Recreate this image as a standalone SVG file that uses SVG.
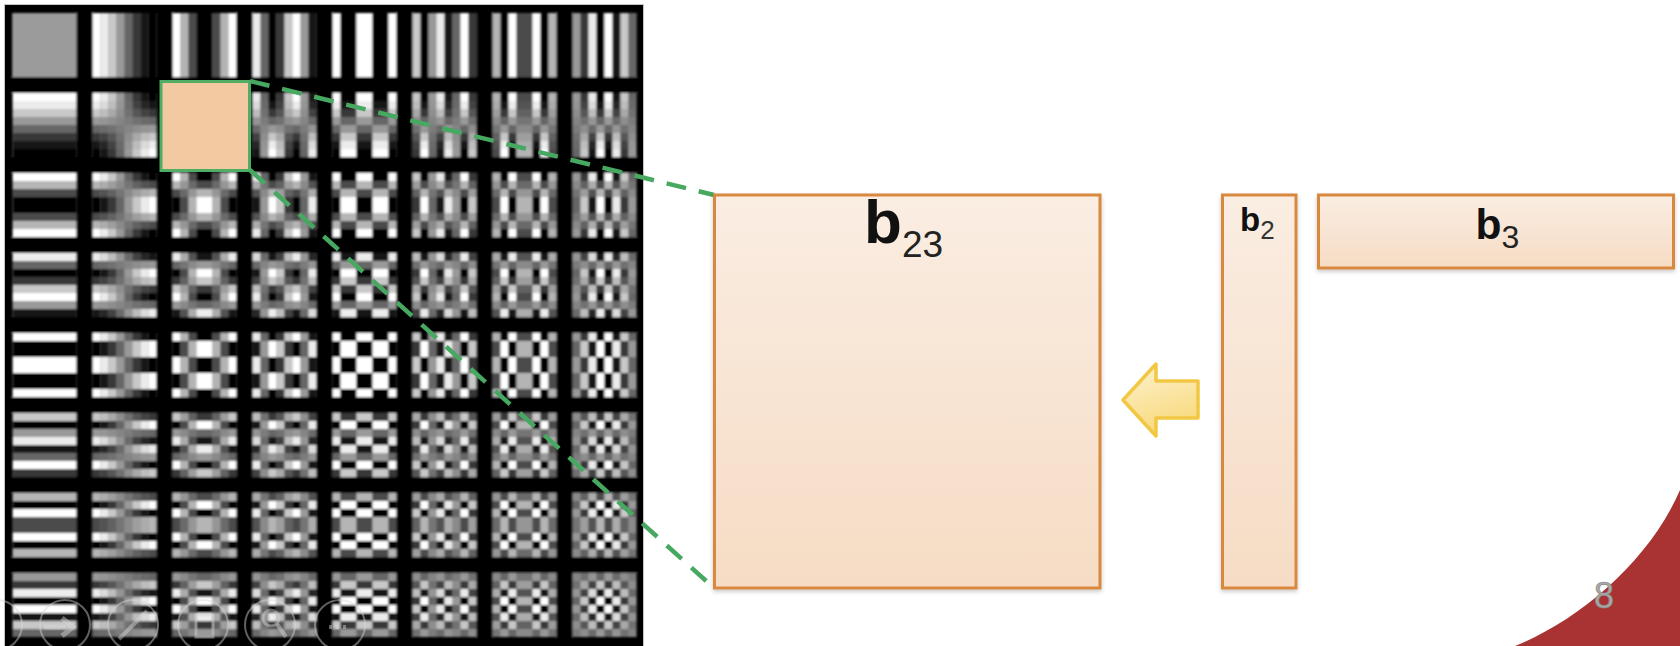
<svg xmlns="http://www.w3.org/2000/svg" width="1680" height="646" viewBox="0 0 1680 646">
<style>
.lbl{font-family:"Liberation Sans",Arial,sans-serif;fill:#111}
.box{stroke:#d9883f;stroke-width:3;fill:url(#boxg)}
.dash{stroke:#47a862;stroke-width:4.5;stroke-dasharray:20 13;fill:none}
.ic{fill:none;stroke:#d8d8d8;stroke-opacity:.45;stroke-width:2}
.band{fill-opacity:1}
</style>
<defs>
<linearGradient id="boxg" x1="0" y1="0" x2="0" y2="1">
<stop offset="0" stop-color="#faede2"/>
<stop offset="1" stop-color="#f6dcc4"/>
</linearGradient>
<linearGradient id="arrg" x1="0" y1="0" x2="0.3" y2="1">
<stop offset="0" stop-color="#fdf3d2"/>
<stop offset="1" stop-color="#f8d97c"/>
</linearGradient>
<filter id="shadow" x="-10%" y="-10%" width="120%" height="120%">
<feDropShadow dx="0" dy="2" stdDeviation="2" flood-color="#000" flood-opacity="0.22"/>
</filter>
<filter id="soft" x="-2%" y="-2%" width="104%" height="104%">
<feGaussianBlur stdDeviation="0.9"/>
</filter>
<pattern id="PX" patternUnits="userSpaceOnUse" x="0" y="0" width="1680" height="646">
<rect x="12.5" width="64" height="646" fill="#fff"/>
<rect x="92.5" width="8" height="646" fill="#fff"/>
<rect x="100.5" width="8" height="646" fill="#ebebeb"/>
<rect x="108.5" width="8" height="646" fill="#c8c8c8"/>
<rect x="116.5" width="8" height="646" fill="#999"/>
<rect x="124.5" width="8" height="646" fill="#666"/>
<rect x="132.5" width="8" height="646" fill="#373737"/>
<rect x="140.5" width="8" height="646" fill="#141414"/>
<rect x="148.5" width="8" height="646" fill="#000"/>
<rect x="172.5" width="8" height="646" fill="#fff"/>
<rect x="180.5" width="8" height="646" fill="#b4b4b4"/>
<rect x="188.5" width="8" height="646" fill="#4b4b4b"/>
<rect x="196.5" width="16" height="646" fill="#000"/>
<rect x="212.5" width="8" height="646" fill="#4b4b4b"/>
<rect x="220.5" width="8" height="646" fill="#b4b4b4"/>
<rect x="228.5" width="8" height="646" fill="#fff"/>
<rect x="252.5" width="8" height="646" fill="#ebebeb"/>
<rect x="260.5" width="8" height="646" fill="#666"/>
<rect x="268.5" width="8" height="646" fill="#000"/>
<rect x="276.5" width="8" height="646" fill="#373737"/>
<rect x="284.5" width="8" height="646" fill="#c8c8c8"/>
<rect x="292.5" width="8" height="646" fill="#fff"/>
<rect x="300.5" width="8" height="646" fill="#999"/>
<rect x="308.5" width="8" height="646" fill="#141414"/>
<rect x="332.5" width="8" height="646" fill="#fff"/>
<rect x="340.5" width="16" height="646" fill="#000"/>
<rect x="356.5" width="16" height="646" fill="#fff"/>
<rect x="372.5" width="16" height="646" fill="#000"/>
<rect x="388.5" width="8" height="646" fill="#fff"/>
<rect x="412.5" width="8" height="646" fill="#c8c8c8"/>
<rect x="420.5" width="8" height="646" fill="#000"/>
<rect x="428.5" width="8" height="646" fill="#999"/>
<rect x="436.5" width="8" height="646" fill="#ebebeb"/>
<rect x="444.5" width="8" height="646" fill="#141414"/>
<rect x="452.5" width="8" height="646" fill="#666"/>
<rect x="460.5" width="8" height="646" fill="#fff"/>
<rect x="468.5" width="8" height="646" fill="#373737"/>
<rect x="492.5" width="8" height="646" fill="#b4b4b4"/>
<rect x="500.5" width="8" height="646" fill="#000"/>
<rect x="508.5" width="8" height="646" fill="#fff"/>
<rect x="516.5" width="16" height="646" fill="#4b4b4b"/>
<rect x="532.5" width="8" height="646" fill="#fff"/>
<rect x="540.5" width="8" height="646" fill="#000"/>
<rect x="548.5" width="8" height="646" fill="#b4b4b4"/>
<rect x="572.5" width="8" height="646" fill="#999"/>
<rect x="580.5" width="8" height="646" fill="#373737"/>
<rect x="588.5" width="8" height="646" fill="#ebebeb"/>
<rect x="596.5" width="8" height="646" fill="#000"/>
<rect x="604.5" width="8" height="646" fill="#fff"/>
<rect x="612.5" width="8" height="646" fill="#141414"/>
<rect x="620.5" width="8" height="646" fill="#c8c8c8"/>
<rect x="628.5" width="8" height="646" fill="#666"/>
</pattern>
<pattern id="PXi" patternUnits="userSpaceOnUse" x="0" y="0" width="1680" height="646">
<rect x="12.5" width="64" height="646" fill="#000"/>
<rect x="92.5" width="8" height="646" fill="#000"/>
<rect x="100.5" width="8" height="646" fill="#141414"/>
<rect x="108.5" width="8" height="646" fill="#373737"/>
<rect x="116.5" width="8" height="646" fill="#666"/>
<rect x="124.5" width="8" height="646" fill="#999"/>
<rect x="132.5" width="8" height="646" fill="#c8c8c8"/>
<rect x="140.5" width="8" height="646" fill="#ebebeb"/>
<rect x="148.5" width="8" height="646" fill="#fff"/>
<rect x="172.5" width="8" height="646" fill="#000"/>
<rect x="180.5" width="8" height="646" fill="#4b4b4b"/>
<rect x="188.5" width="8" height="646" fill="#b4b4b4"/>
<rect x="196.5" width="16" height="646" fill="#fff"/>
<rect x="212.5" width="8" height="646" fill="#b4b4b4"/>
<rect x="220.5" width="8" height="646" fill="#4b4b4b"/>
<rect x="228.5" width="8" height="646" fill="#000"/>
<rect x="252.5" width="8" height="646" fill="#141414"/>
<rect x="260.5" width="8" height="646" fill="#999"/>
<rect x="268.5" width="8" height="646" fill="#fff"/>
<rect x="276.5" width="8" height="646" fill="#c8c8c8"/>
<rect x="284.5" width="8" height="646" fill="#373737"/>
<rect x="292.5" width="8" height="646" fill="#000"/>
<rect x="300.5" width="8" height="646" fill="#666"/>
<rect x="308.5" width="8" height="646" fill="#ebebeb"/>
<rect x="332.5" width="8" height="646" fill="#000"/>
<rect x="340.5" width="16" height="646" fill="#fff"/>
<rect x="356.5" width="16" height="646" fill="#000"/>
<rect x="372.5" width="16" height="646" fill="#fff"/>
<rect x="388.5" width="8" height="646" fill="#000"/>
<rect x="412.5" width="8" height="646" fill="#373737"/>
<rect x="420.5" width="8" height="646" fill="#fff"/>
<rect x="428.5" width="8" height="646" fill="#666"/>
<rect x="436.5" width="8" height="646" fill="#141414"/>
<rect x="444.5" width="8" height="646" fill="#ebebeb"/>
<rect x="452.5" width="8" height="646" fill="#999"/>
<rect x="460.5" width="8" height="646" fill="#000"/>
<rect x="468.5" width="8" height="646" fill="#c8c8c8"/>
<rect x="492.5" width="8" height="646" fill="#4b4b4b"/>
<rect x="500.5" width="8" height="646" fill="#fff"/>
<rect x="508.5" width="8" height="646" fill="#000"/>
<rect x="516.5" width="16" height="646" fill="#b4b4b4"/>
<rect x="532.5" width="8" height="646" fill="#000"/>
<rect x="540.5" width="8" height="646" fill="#fff"/>
<rect x="548.5" width="8" height="646" fill="#4b4b4b"/>
<rect x="572.5" width="8" height="646" fill="#666"/>
<rect x="580.5" width="8" height="646" fill="#c8c8c8"/>
<rect x="588.5" width="8" height="646" fill="#141414"/>
<rect x="596.5" width="8" height="646" fill="#fff"/>
<rect x="604.5" width="8" height="646" fill="#000"/>
<rect x="612.5" width="8" height="646" fill="#ebebeb"/>
<rect x="620.5" width="8" height="646" fill="#373737"/>
<rect x="628.5" width="8" height="646" fill="#999"/>
</pattern>
</defs>

<rect width="1680" height="646" fill="#fff"/>

<!-- corner decoration -->
<g id="corner">
<path d="M1515 646 C1580 620 1650 560 1680 490 L1680 646 Z" fill="#a93232"/>
</g>

<!-- DCT basis panel -->
<g id="dct-panel">
<rect x="4.5" y="4.5" width="639" height="645" fill="#000" stroke="#c4c4c4" stroke-width="1"/>
<g filter="url(#soft)">
<rect x="12.5" y="13" width="624" height="624" fill="#808080"/>
<!-- row 0 -->
<rect x="12.5" y="13" width="624" height="64" fill="url(#PX)"/>
<!-- row 1 -->
<rect x="12.5" y="93" width="624" height="8" fill="url(#PX)"/>
<rect x="12.5" y="101" width="624" height="8" fill="url(#PX)" fill-opacity=".847"/>
<rect x="12.5" y="109" width="624" height="8" fill="url(#PX)" fill-opacity=".567"/>
<rect x="12.5" y="117" width="624" height="8" fill="url(#PX)" fill-opacity=".199"/>
<rect x="12.5" y="125" width="624" height="8" fill="url(#PXi)" fill-opacity=".199"/>
<rect x="12.5" y="133" width="624" height="8" fill="url(#PXi)" fill-opacity=".567"/>
<rect x="12.5" y="141" width="624" height="8" fill="url(#PXi)" fill-opacity=".847"/>
<rect x="12.5" y="149" width="624" height="8" fill="url(#PXi)"/>
<!-- row 2 -->
<rect x="12.5" y="173" width="624" height="8" fill="url(#PX)"/>
<rect x="12.5" y="181" width="624" height="8" fill="url(#PX)" fill-opacity=".414"/>
<rect x="12.5" y="189" width="624" height="8" fill="url(#PXi)" fill-opacity=".414"/>
<rect x="12.5" y="197" width="624" height="16" fill="url(#PXi)"/>
<rect x="12.5" y="213" width="624" height="8" fill="url(#PXi)" fill-opacity=".414"/>
<rect x="12.5" y="221" width="624" height="8" fill="url(#PX)" fill-opacity=".414"/>
<rect x="12.5" y="229" width="624" height="8" fill="url(#PX)"/>
<!-- row 3 -->
<rect x="12.5" y="253" width="624" height="8" fill="url(#PX)" fill-opacity=".847"/>
<rect x="12.5" y="261" width="624" height="8" fill="url(#PXi)" fill-opacity=".199"/>
<rect x="12.5" y="269" width="624" height="8" fill="url(#PXi)"/>
<rect x="12.5" y="277" width="624" height="8" fill="url(#PXi)" fill-opacity=".567"/>
<rect x="12.5" y="285" width="624" height="8" fill="url(#PX)" fill-opacity=".567"/>
<rect x="12.5" y="293" width="624" height="8" fill="url(#PX)"/>
<rect x="12.5" y="301" width="624" height="8" fill="url(#PX)" fill-opacity=".199"/>
<rect x="12.5" y="309" width="624" height="8" fill="url(#PXi)" fill-opacity=".847"/>
<!-- row 4 -->
<rect x="12.5" y="333" width="624" height="8" fill="url(#PX)"/>
<rect x="12.5" y="341" width="624" height="16" fill="url(#PXi)"/>
<rect x="12.5" y="357" width="624" height="16" fill="url(#PX)"/>
<rect x="12.5" y="373" width="624" height="16" fill="url(#PXi)"/>
<rect x="12.5" y="389" width="624" height="8" fill="url(#PX)"/>
<!-- row 5 -->
<rect x="12.5" y="413" width="624" height="8" fill="url(#PX)" fill-opacity=".567"/>
<rect x="12.5" y="421" width="624" height="8" fill="url(#PXi)"/>
<rect x="12.5" y="429" width="624" height="8" fill="url(#PX)" fill-opacity=".199"/>
<rect x="12.5" y="437" width="624" height="8" fill="url(#PX)" fill-opacity=".847"/>
<rect x="12.5" y="445" width="624" height="8" fill="url(#PXi)" fill-opacity=".847"/>
<rect x="12.5" y="453" width="624" height="8" fill="url(#PXi)" fill-opacity=".199"/>
<rect x="12.5" y="461" width="624" height="8" fill="url(#PX)"/>
<rect x="12.5" y="469" width="624" height="8" fill="url(#PXi)" fill-opacity=".567"/>
<!-- row 6 -->
<rect x="12.5" y="493" width="624" height="8" fill="url(#PX)" fill-opacity=".414"/>
<rect x="12.5" y="501" width="624" height="8" fill="url(#PXi)"/>
<rect x="12.5" y="509" width="624" height="8" fill="url(#PX)"/>
<rect x="12.5" y="517" width="624" height="16" fill="url(#PXi)" fill-opacity=".414"/>
<rect x="12.5" y="533" width="624" height="8" fill="url(#PX)"/>
<rect x="12.5" y="541" width="624" height="8" fill="url(#PXi)"/>
<rect x="12.5" y="549" width="624" height="8" fill="url(#PX)" fill-opacity=".414"/>
<!-- row 7 -->
<rect x="12.5" y="573" width="624" height="8" fill="url(#PX)" fill-opacity=".199"/>
<rect x="12.5" y="581" width="624" height="8" fill="url(#PXi)" fill-opacity=".567"/>
<rect x="12.5" y="589" width="624" height="8" fill="url(#PX)" fill-opacity=".847"/>
<rect x="12.5" y="597" width="624" height="8" fill="url(#PXi)"/>
<rect x="12.5" y="605" width="624" height="8" fill="url(#PX)"/>
<rect x="12.5" y="613" width="624" height="8" fill="url(#PXi)" fill-opacity=".847"/>
<rect x="12.5" y="621" width="624" height="8" fill="url(#PX)" fill-opacity=".567"/>
<rect x="12.5" y="629" width="624" height="8" fill="url(#PXi)" fill-opacity=".199"/>
<!-- DC cell -->
<rect x="12.5" y="13" width="64" height="64" fill="#9b9b9b"/>
<!-- black gaps -->
<g fill="#000">
<rect x="76.5" y="8" width="16" height="636"/>
<rect x="156.5" y="8" width="16" height="636"/>
<rect x="236.5" y="8" width="16" height="636"/>
<rect x="316.5" y="8" width="16" height="636"/>
<rect x="396.5" y="8" width="16" height="636"/>
<rect x="476.5" y="8" width="16" height="636"/>
<rect x="556.5" y="8" width="16" height="636"/>
<rect x="8" y="77" width="632" height="16"/>
<rect x="8" y="157" width="632" height="16"/>
<rect x="8" y="237" width="632" height="16"/>
<rect x="8" y="317" width="632" height="16"/>
<rect x="8" y="397" width="632" height="16"/>
<rect x="8" y="477" width="632" height="16"/>
<rect x="8" y="557" width="632" height="16"/>
</g>
</g>
<!-- faint slideshow controls -->
<g id="controls" class="ic">
<circle cx="-3" cy="625" r="25"/>
<circle cx="65" cy="625" r="25"/>
<path d="M44 627 H66 M62 618 L73 627 L62 636" stroke-width="5"/>
<circle cx="133" cy="625" r="25"/>
<path d="M119 639 L147 611" stroke-width="4"/>
<circle cx="203" cy="625" r="25"/>
<rect x="196" y="615" width="17" height="22" stroke-width="3"/>
<circle cx="270" cy="625" r="25"/>
<circle cx="271" cy="618" r="8" stroke-width="3"/>
<path d="M277 624 L286 637" stroke-width="4"/>
<circle cx="340" cy="625" r="25"/>
<path d="M329 627 H347" stroke-width="4" stroke-dasharray="3 4"/>
</g>
</g>

<!-- highlighted basis -->
<g id="highlight">
<rect x="161" y="81.5" width="88.5" height="89" fill="#f2c9a0" stroke="#4fae63" stroke-width="3"/>
</g>

<!-- connectors -->
<g id="connectors">
<path class="dash" d="M250 81 L714 195"/>
<path class="dash" d="M250 170 L714 588"/>
<polygon id="arrow" points="1123,400 1156,364 1156,381 1198,381 1198,418 1156,418 1156,436" fill="url(#arrg)" stroke="#f2c744" stroke-width="3.5" stroke-linejoin="round"/>
</g>

<!-- b23 -->
<g id="b23">
<rect class="box" x="714.5" y="195" width="385.5" height="393" filter="url(#shadow)"/>
<text class="lbl" x="864" y="243"><tspan font-weight="bold" font-size="62">b</tspan><tspan font-size="37" dy="14" fill="#222">23</tspan></text>
</g>

<!-- b2 -->
<g id="b2">
<rect class="box" x="1222.5" y="195" width="73.5" height="393" filter="url(#shadow)"/>
<text class="lbl" x="1240" y="231"><tspan font-weight="bold" font-size="33">b</tspan><tspan font-size="26" dy="8" fill="#333">2</tspan></text>
</g>

<!-- b3 -->
<g id="b3">
<rect class="box" x="1318.5" y="195" width="355" height="73" filter="url(#shadow)"/>
<text class="lbl" x="1475.5" y="239"><tspan font-weight="bold" font-size="42.5">b</tspan><tspan font-size="32" dy="9" fill="#222">3</tspan></text>
</g>

<!-- page number -->
<g id="page-number">
<text x="1594" y="608" font-family="Liberation Sans, Arial, sans-serif" font-size="36" fill="#a8a8a8" stroke="#8a8a8a" stroke-width="0.7">8</text>
</g>
</svg>
